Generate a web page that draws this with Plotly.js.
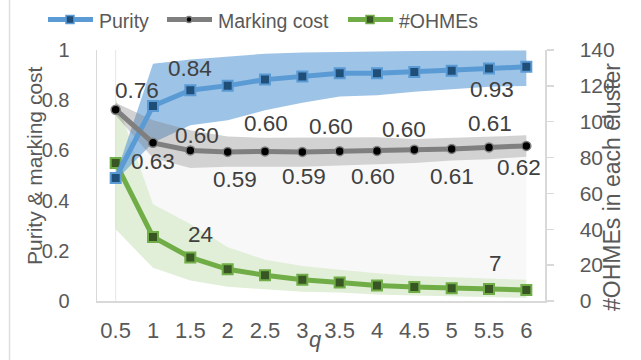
<!DOCTYPE html>
<html>
<head>
<meta charset="utf-8">
<script src="https://cdn.plot.ly/plotly-3.0.1.min.js"></script>
<style>
  html, body { margin: 0; padding: 0; background: #ffffff; }
  #chart { width: 641px; height: 360px; }
</style>
</head>
<body>
<div id="chart"></div>
<script>
// q values along the x axis
const qValues = ['0.5', '1', '1.5', '2', '2.5', '3', '3.5', '4', '4.5', '5', '5.5', '6'];

// Purity (left axis) with its spread band
const purity     = [0.49, 0.777, 0.84, 0.858, 0.882, 0.894, 0.907, 0.907, 0.912, 0.917, 0.926, 0.933];
const purityLow  = [0.48, 0.63, 0.70, 0.72, 0.76, 0.79, 0.815, 0.82, 0.834, 0.845, 0.854, 0.857];
const purityHigh = [0.50, 0.945, 0.962, 0.975, 0.985, 0.99, 0.993, 0.995, 0.996, 0.997, 0.998, 0.998];

// Marking cost (left axis) with its spread band
const markingCost = [0.762, 0.63, 0.60, 0.594, 0.596, 0.594, 0.597, 0.598, 0.603, 0.606, 0.612, 0.618];
const costLow     = [0.74, 0.57, 0.53, 0.535, 0.535, 0.535, 0.54, 0.545, 0.55, 0.56, 0.565, 0.575];
const costHigh    = [0.79, 0.72, 0.68, 0.655, 0.65, 0.65, 0.652, 0.652, 0.645, 0.65, 0.655, 0.66];

// Number of OHMEs per cluster (right axis) with its spread band
const ohmes     = [77, 35.7, 24.3, 17.7, 14.4, 11.9, 10.3, 8.6, 7.8, 7.1, 6.7, 6.2];
const ohmesLow  = [40, 18.5, 11.5, 8, 6.5, 5.2, 4.7, 3.6, 3, 2.5, 2.1, 1.8];
const ohmesHigh = [113, 54, 43, 30, 23, 19.5, 17.5, 15.5, 14, 13.3, 12.5, 11.8];

// Series names shown in the legend
const seriesNames = ['Purity', 'Marking cost', '#OHMEs'];

// Right-axis scale, used to shade the gap under the marking-cost band
const OHME_MAX = 140;

// Which points carry a value label, and where each label sits (px offsets)
const costLabelShift = [[21, 19], [0, -19], [7, 15], [7, -28], [1, 28], [2, -25],
                        [-9, 25], [-4, -26], [-10, 20], [0, -28], [1, 24], [-7, -22]];
const purityLabeled = [[2, 0, 22], [10, 3, -21]];
const ohmeLabeled   = [[2, 10, 23], [10, 6, 25]];

const FONT = 'Liberation Sans, Arial, sans-serif';
const BLUE = '#5b9bd5', GRAY = '#7f7f7f', GREEN = '#70ad47';
const BLUE_DARK = '#1f4e79', GREEN_DARK = '#375623';

// plot-area geometry in px, for placing the hand-drawn legend and titles
const PL = 97, PW = 448, PT = 50, PH = 251;
const px = v => (v - PL) / PW;
const py = v => (PT + PH - v) / PH;

function band(y, axis, fill, color) {
  return {
    x: qValues, y: y, yaxis: axis, type: 'scatter', mode: 'lines',
    line: { width: 0, color: 'rgba(0,0,0,0)' },
    fill: fill ? 'tonexty' : 'none', fillcolor: color,
    hoverinfo: 'skip', showlegend: false
  };
}

const traces = [
  // light shading between the OHME band top and the marking-cost band bottom
  band(ohmesHigh, 'y', false),
  band(costLow.map(v => v * OHME_MAX), 'y', true, '#f8f8f8'),
  // OHME band + line (right axis, drawn underneath)
  band(ohmesLow, 'y', false),
  band(ohmesHigh, 'y', true, 'rgba(112,173,71,0.21)'),
  {
    x: qValues, y: ohmes, yaxis: 'y', type: 'scatter', mode: 'lines+markers',
    name: seriesNames[2], showlegend: false,
    line: { color: GREEN, width: 5 },
    marker: { symbol: 'square', size: 10, color: GREEN_DARK, line: { color: GREEN, width: 2 } }
  },
  // purity band
  band(purityLow, 'y2', false),
  band(purityHigh, 'y2', true, 'rgba(91,155,213,0.6)'),
  // marking cost band
  band(costLow, 'y2', false),
  band(costHigh, 'y2', true, 'rgba(127,127,127,0.35)'),
  {
    x: qValues, y: purity, yaxis: 'y2', type: 'scatter', mode: 'lines+markers',
    name: seriesNames[0], showlegend: false,
    line: { color: BLUE, width: 5 },
    marker: { symbol: 'square', size: 10, color: BLUE_DARK, line: { color: BLUE, width: 2 } }
  },
  {
    x: qValues, y: markingCost, yaxis: 'y2', type: 'scatter', mode: 'lines+markers',
    name: seriesNames[1], showlegend: false,
    line: { color: GRAY, width: 5 },
    marker: { symbol: 'circle', size: 9, color: '#000000', line: { color: GRAY, width: 1.5 } }
  }
];

const labelFont = { family: FONT, size: 22.5, color: '#404040' };
const annotations = [];

// value labels (x given as category index)
markingCost.forEach((v, i) => {
  annotations.push({
    x: i, y: v, xref: 'x', yref: 'y2', text: v.toFixed(2),
    showarrow: false, font: labelFont, xanchor: 'center', yanchor: 'middle',
    xshift: costLabelShift[i][0], yshift: costLabelShift[i][1]
  });
});
purityLabeled.forEach(([i, dx, dy]) => {
  annotations.push({
    x: i, y: purity[i], xref: 'x', yref: 'y2', text: purity[i].toFixed(2),
    showarrow: false, font: labelFont, xanchor: 'center', yanchor: 'middle',
    xshift: dx, yshift: dy
  });
});
ohmeLabeled.forEach(([i, dx, dy]) => {
  annotations.push({
    x: i, y: ohmes[i], xref: 'x', yref: 'y', text: ohmes[i].toFixed(0),
    showarrow: false, font: labelFont, xanchor: 'center', yanchor: 'middle',
    xshift: dx, yshift: dy
  });
});

// axis titles
annotations.push({
  text: 'Purity &amp; marking cost', xref: 'paper', yref: 'paper',
  x: px(34), y: py(166), xanchor: 'center', yanchor: 'middle',
  textangle: -90, showarrow: false,
  font: { family: FONT, size: 21, color: '#595959' }
});
annotations.push({
  text: '#OHMEs in each cluster', xref: 'paper', yref: 'paper',
  x: px(612), y: py(187), xanchor: 'center', yanchor: 'middle',
  textangle: -90, showarrow: false,
  font: { family: FONT, size: 23, color: '#595959' }
});
annotations.push({
  text: '<i>q</i>', xref: 'paper', yref: 'paper',
  x: px(315), y: py(339), xanchor: 'center', yanchor: 'middle', showarrow: false,
  font: { family: FONT, size: 22, color: '#595959' }
});

// legend, drawn as shapes + text above the plot
const legendY = 19.5;
const legendItems = [
  { x0: 48, text: 97, color: BLUE, fill: BLUE_DARK, kind: 'rect' },
  { x0: 167, text: 216, color: GRAY, fill: '#000000', kind: 'circle' },
  { x0: 348, text: 397, color: GREEN, fill: GREEN_DARK, kind: 'rect' }
];
const shapes = [
  { type: 'line', xref: 'x', yref: 'paper', x0: 0, x1: 0, y0: 0, y1: 1,
    line: { color: '#e6e6e6', width: 1 }, layer: 'below' },
  { type: 'line', xref: 'paper', yref: 'paper', x0: px(9.5), x1: px(9.5), y0: py(-5), y1: py(365),
    line: { color: '#dedede', width: 1.5 } }
];
legendItems.forEach((it, k) => {
  const cx = it.x0 + 22;
  shapes.push({
    type: 'line', xref: 'paper', yref: 'paper',
    x0: px(it.x0), x1: px(it.x0 + 45), y0: py(legendY), y1: py(legendY),
    line: { color: it.color, width: 5 }
  });
  const r = it.kind === 'rect' ? 4 : 3;
  shapes.push({
    type: it.kind, xref: 'paper', yref: 'paper',
    x0: px(cx - r), x1: px(cx + r), y0: py(legendY + r), y1: py(legendY - r),
    fillcolor: it.fill, line: { color: it.color, width: 1.5 }
  });
  annotations.push({
    text: seriesNames[k], xref: 'paper', yref: 'paper',
    x: px(it.text), y: py(legendY + 1), xanchor: 'left', yanchor: 'middle',
    showarrow: false, font: { family: FONT, size: 19.5, color: '#595959' }
  });
});

const layout = {
  width: 641, height: 360,
  margin: { l: PL, r: 641 - PL - PW, t: PT, b: 360 - PT - PH },
  paper_bgcolor: '#ffffff', plot_bgcolor: 'rgba(0,0,0,0)',
  showlegend: false,
  xaxis: {
    type: 'category', range: [-0.5, 11.5], fixedrange: true,
    showgrid: false, zeroline: false,
    showline: true, linecolor: '#d9d9d9', linewidth: 1.5,
    ticks: '', tickfont: { family: FONT, size: 22, color: '#595959' },
    ticklabelstandoff: 9
  },
  yaxis: {
    side: 'right', range: [0, 140], dtick: 20, fixedrange: true,
    showgrid: false, zeroline: false,
    showline: true, linecolor: '#d9d9d9', linewidth: 1.5,
    ticks: 'outside', ticklen: 7, tickcolor: '#d9d9d9', tickwidth: 1.5,
    tickfont: { family: FONT, size: 21, color: '#595959' }, ticklabelstandoff: 22
  },
  yaxis2: {
    side: 'left', overlaying: 'y', range: [0, 1], dtick: 0.2, fixedrange: true,
    showgrid: false, zeroline: false,
    showline: true, linecolor: '#d9d9d9', linewidth: 1.5,
    ticks: '', tickfont: { family: FONT, size: 20, color: '#595959' }, ticklabelstandoff: 22
  },
  shapes: shapes,
  annotations: annotations
};

Plotly.newPlot('chart', traces, layout, { staticPlot: true, displayModeBar: false });
</script>
</body>
</html>
